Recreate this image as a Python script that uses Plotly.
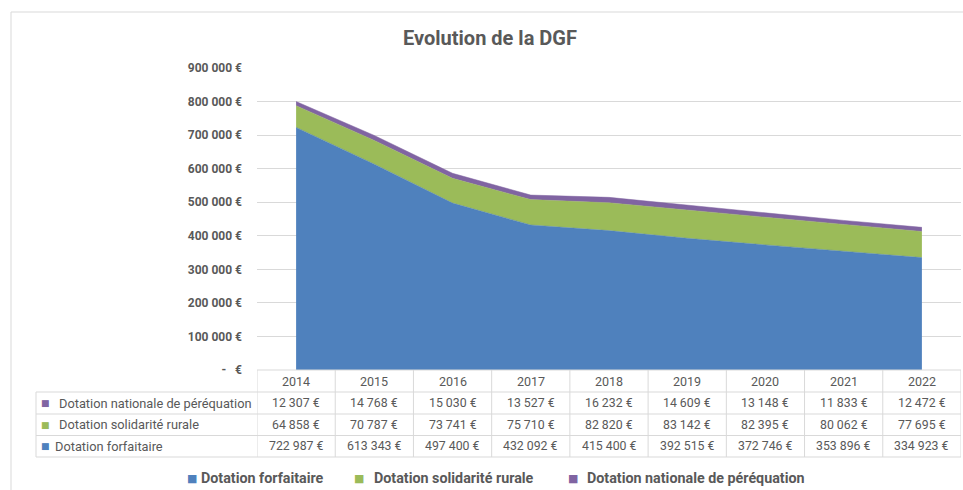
import plotly.graph_objects as go

# ---- data ----
years = [2014, 2015, 2016, 2017, 2018, 2019, 2020, 2021, 2022]
forfaitaire = [722987, 613343, 497400, 432092, 415400, 392515, 372746, 353896, 334923]
solidarite = [64858, 70787, 73741, 75710, 82820, 83142, 82395, 80062, 77695]
perequation = [12307, 14768, 15030, 13527, 16232, 14609, 13148, 11833, 12472]
series_names = ["Dotation forfaitaire", "Dotation solidarité rurale", "Dotation nationale de péréquation"]
y_ticks = [0, 100000, 200000, 300000, 400000, 500000, 600000, 700000, 800000, 900000]
title_text = "Evolution de la DGF"

# ---- style ----
colors = ["#4F81BD", "#9BBB59", "#8064A2"]
TXT = "#595959"
GRID = "#D9D9D9"
FONT = "Roboto"
W, H = 963, 490
L, R, T, B = 257, 961, 68, 370


def fmt(v):
    return f"{v:,}".replace(",", "\u00a0") + "\u00a0€"


def px(x):
    return (x - L) / (R - L)


def py(y):
    return (B - y) / (B - T)


fig = go.Figure()
for name, vals, col in zip(series_names, [forfaitaire, solidarite, perequation], colors):
    fig.add_trace(go.Scatter(
        x=years, y=vals, name=name, stackgroup="one", mode="lines",
        line=dict(width=0.5, color=col), fillcolor=col, showlegend=False,
    ))

ticktext = [fmt(v) if v else "-\u00a0\u00a0\u00a0€" for v in y_ticks]

shapes = []
annotations = []

# outer chart border
shapes.append(dict(type="rect", xref="paper", yref="paper",
                   x0=px(11), x1=px(990), y0=py(12), y1=py(520),
                   line=dict(color=GRID, width=1), layer="below"))

# table geometry (pixel rows)
row_edges = [370, 392, 414, 435.5, 457]
label_left = 36
shapes.append(dict(type="line", xref="paper", yref="paper", x0=0, x1=1,
                   y0=py(row_edges[0]), y1=py(row_edges[0]), line=dict(color=GRID, width=1)))
for ye in row_edges[1:]:
    shapes.append(dict(type="line", xref="paper", yref="paper", x0=px(label_left), x1=1,
                       y0=py(ye), y1=py(ye), line=dict(color=GRID, width=1)))
for i in range(len(years) + 1):
    xv = years[0] - 0.5 + i
    shapes.append(dict(type="line", xref="x", yref="paper", x0=xv, x1=xv,
                       y0=py(row_edges[0]), y1=py(row_edges[-1]), line=dict(color=GRID, width=1)))
shapes.append(dict(type="line", xref="paper", yref="paper", x0=px(label_left), x1=px(label_left),
                   y0=py(row_edges[1]), y1=py(row_edges[-1]), line=dict(color=GRID, width=1)))

row_centers = [(row_edges[k] + row_edges[k + 1]) / 2 for k in range(4)]

for yr in years:
    annotations.append(dict(x=yr, xref="x", y=py(row_centers[0]), yref="paper", text=str(yr),
                            showarrow=False, xanchor="center", yanchor="middle",
                            font=dict(family=FONT, size=12.5, color=TXT)))

table_rows = [(series_names[2], perequation, colors[2], 57),
              (series_names[1], solidarite, colors[1], 57),
              (series_names[0], forfaitaire, colors[0], 52.5)]
for k, (name, vals, col, tx) in enumerate(table_rows):
    yc = py(row_centers[k + 1])
    annotations.append(dict(x=px(45.5), xref="paper", y=yc, yref="paper", text="■",
                            showarrow=False, xanchor="center", yanchor="middle",
                            font=dict(family="DejaVu Sans", size=9, color=col)))
    annotations.append(dict(x=px(tx), xref="paper", y=yc, yref="paper", text=name,
                            showarrow=False, xanchor="left", yanchor="middle",
                            font=dict(family=FONT, size=12.8, color=TXT)))
    for yr, v in zip(years, vals):
        annotations.append(dict(x=yr, xref="x", y=yc, yref="paper", text=fmt(v),
                                showarrow=False, xanchor="center", yanchor="middle",
                                font=dict(family=FONT, size=12.3, color=TXT)))

legend_pos = [(191.5, 199), (359, 372), (573, 585)]
for name, col, (sqx, tx) in zip(series_names, colors, legend_pos):
    annotations.append(dict(x=px(sqx), xref="paper", y=py(478), yref="paper", text="■",
                            showarrow=False, xanchor="center", yanchor="middle",
                            font=dict(family="DejaVu Sans", size=11, color=col)))
    annotations.append(dict(x=px(tx), xref="paper", y=py(478), yref="paper", text=f"<b>{name}</b>",
                            showarrow=False, xanchor="left", yanchor="middle",
                            font=dict(family=FONT, size=14.3, color=TXT)))

fig.update_layout(
    width=W, height=H,
    margin=dict(l=L, r=W - R, t=T, b=H - B, pad=0),
    paper_bgcolor="white", plot_bgcolor="white",
    title=dict(text=f"<b>{title_text}</b>", x=490 / W, xref="container", xanchor="center",
               y=1 - 38 / H, yanchor="middle", font=dict(family=FONT, size=20, color=TXT)),
    xaxis=dict(range=[years[0] - 0.5, years[-1] + 0.5], showticklabels=False, showgrid=False,
               zeroline=False, showline=False, ticks="", fixedrange=True),
    yaxis=dict(range=[0, 900000], tickvals=y_ticks, ticktext=ticktext, showgrid=True,
               gridcolor=GRID, gridwidth=1, zeroline=False, showline=False, ticks="",
               ticklabelstandoff=14, tickfont=dict(family=FONT, size=12, color=TXT, weight="bold"),
               fixedrange=True),
    shapes=shapes, annotations=annotations, showlegend=False,
)

fig.write_html("out.html", config={"displayModeBar": False},
               post_script="document.body.style.margin='0';")
